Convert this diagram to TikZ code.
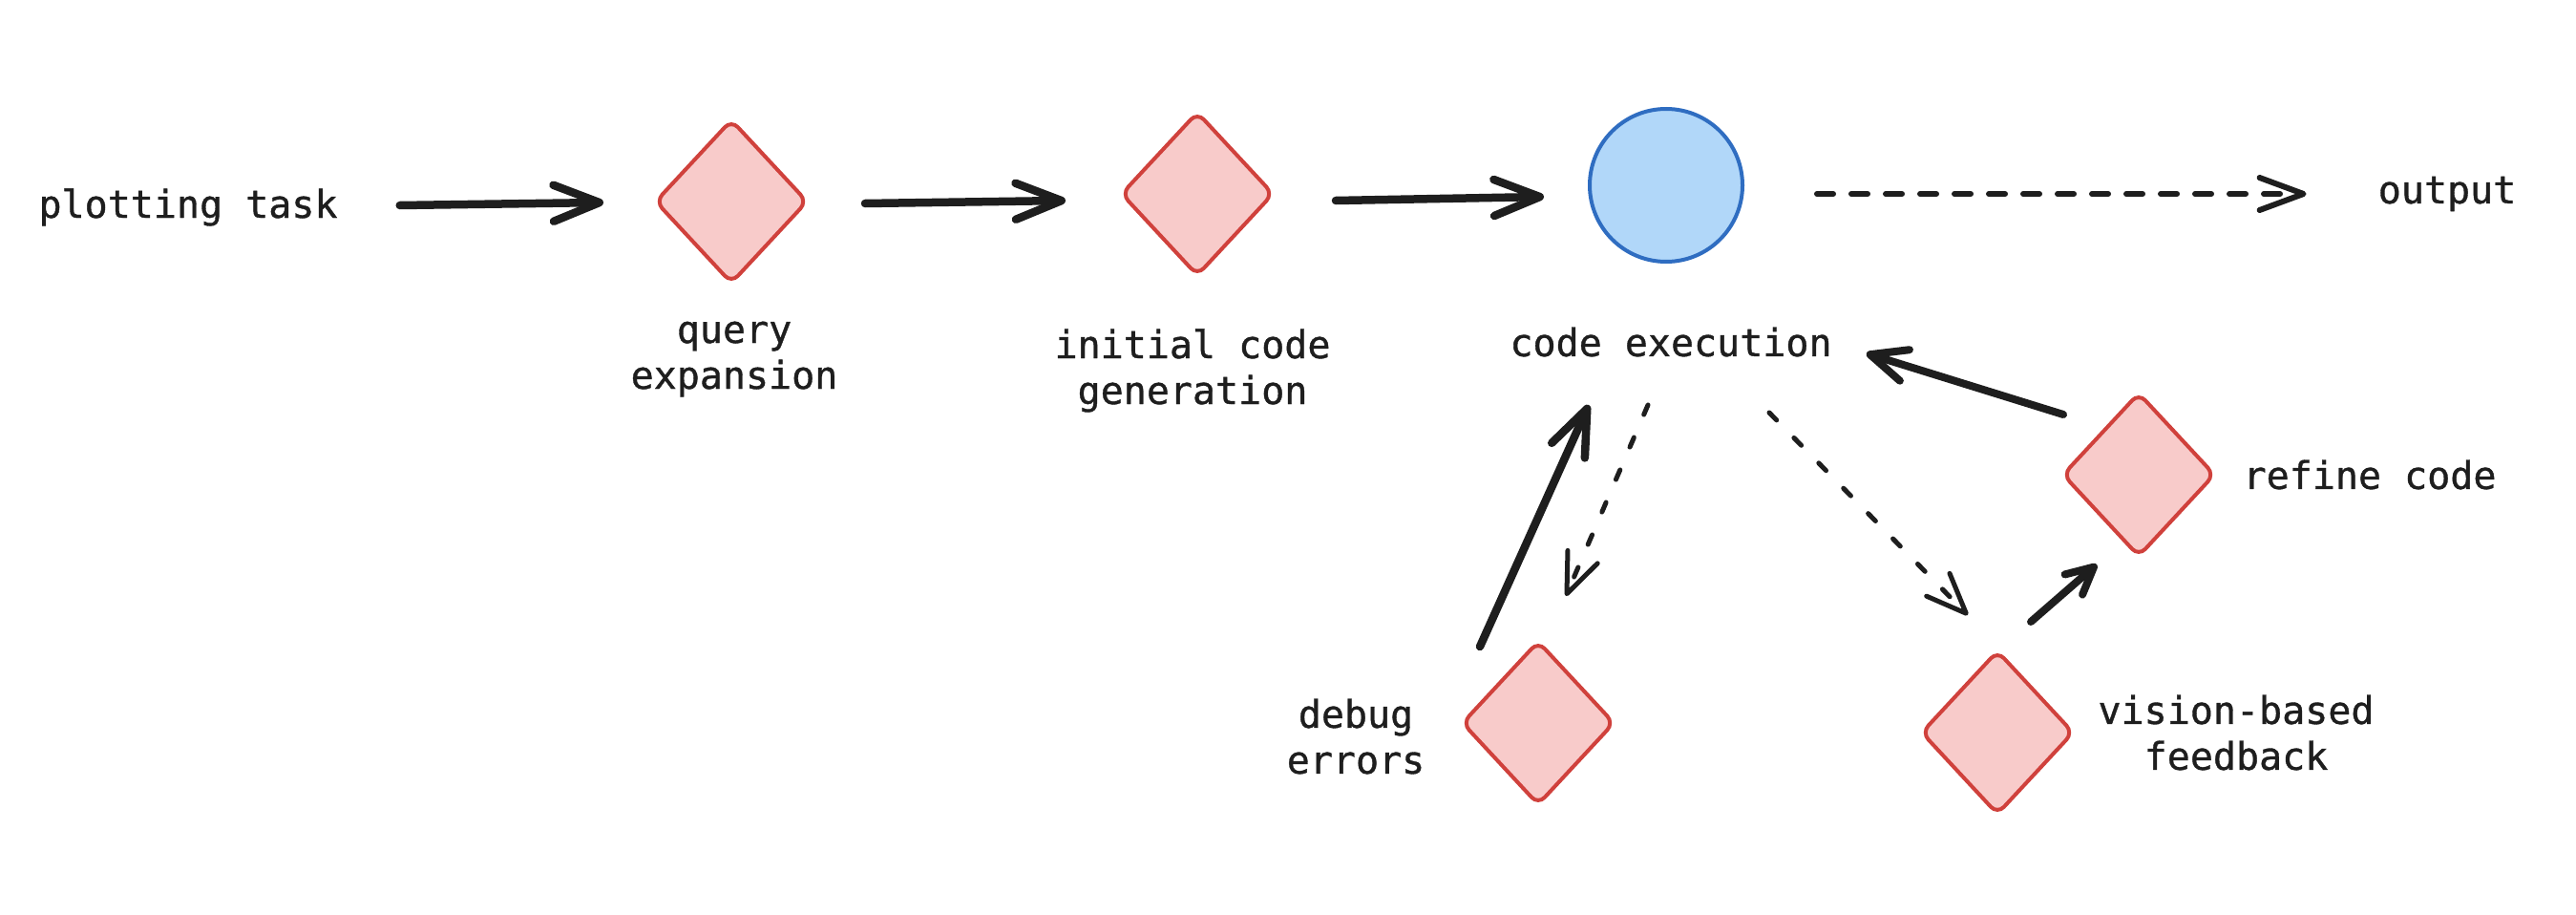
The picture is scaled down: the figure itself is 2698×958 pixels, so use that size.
\documentclass[tikz,border=0pt]{standalone}
\usepackage{fontspec}
\newfontfamily\lblfont[FakeBold=0.9]{DejaVu Sans Mono}
\usetikzlibrary{arrows.meta,shapes.geometric,calc}
\definecolor{inkc}{HTML}{1E1E1E}
\definecolor{redfill}{HTML}{F8CBCA}
\definecolor{redline}{HTML}{D0413C}
\definecolor{bluefill}{HTML}{B1D7F9}
\definecolor{blueline}{HTML}{2F6DC1}
\begin{document}
\begin{tikzpicture}[x=1pt,y=-1pt,
  lbl/.style={font=\fontsize{40}{48}\selectfont\lblfont, text=inkc, align=center, inner sep=0pt},
  dia/.style={diamond, draw=redline, fill=redfill, line width=4pt, minimum width=160pt, minimum height=172pt, inner sep=0pt, rounded corners=10pt},
  flow/.style={draw=inkc, line width=8.5pt, line cap=round, -{Straight Barb[length=48pt, width=38pt, line cap=round, line join=round]}},
  flowsmall/.style={draw=inkc, line width=8pt, line cap=round, -{Straight Barb[length=38pt, width=34pt, line cap=round, line join=round]}},
  flowtiny/.style={draw=inkc, line width=8pt, line cap=round, -{Straight Barb[length=28pt, width=28pt, line cap=round, line join=round]}},
  dflow/.style={draw=inkc, line width=5pt, line cap=round, dash pattern=on 11pt off 26pt, -{Straight Barb[length=42pt, width=34pt, line cap=round, line join=round]}},
  dflowtop/.style={draw=inkc, line width=6pt, line cap=round, dash pattern=on 17pt off 19pt, -{Straight Barb[length=46pt, width=34pt, line cap=round, line join=round]}},
]
\useasboundingbox (0,0) rectangle (2698,958);
\fill[white] (0,0) rectangle (2698,958);

% nodes
\node[lbl] (task) at (197,217) {plotting task};
\node[dia] (query) at (766,211) {};
\node[lbl] (querylbl) at (769,376) {query\\expansion};
\node[dia] (init) at (1254,203) {};
\node[lbl] (initlbl) at (1249,388) {initial code\\generation};
\node[circle, draw=blueline, fill=bluefill, line width=4pt, minimum size=160pt, inner sep=0pt] (exec) at (1745,194) {};
\node[lbl] (execlbl) at (1750,358) {code execution};
\node[lbl] (output) at (2563,203) {output};
\node[dia] (refine) at (2240,497) {};
\node[lbl] (refinelbl) at (2482,497) {refine code};
\node[dia] (vision) at (2092,767) {};
\node[lbl] (visionlbl) at (2342,767) {vision-based\\feedback};
\node[dia] (debug) at (1611,757) {};
\node[lbl] (debuglbl) at (1420,771) {debug\\errors};

% connectors
\draw[flow] ($(task.east)+(65,-2)$) -- ($(query.west)+(-52,1)$);
\draw[flow] ($(query.east)+(58,2)$) -- ($(init.west)+(-56,7)$);
\draw[flow] ($(init.east)+(63,7)$) -- ($(exec.west)+(-46,12)$);
\draw[dflowtop] ($(exec.east)+(76,9)$) -- ($(output.west)+(-75,0)$);
\draw[flowsmall] ($(refine.west)+(3,-63)$) -- ($(execlbl.east)+(36,12)$);
\draw[flowtiny] ($(vision.north)+(35,-28)$) -- ($(refine.south)+(-44,6)$);
\draw[dflow] ($(exec.south)+(108,156)$) -- ($(vision.north)+(-31,-35)$);
\draw[dflow] ($(exec.south)+(-19,148)$) -- ($(debug.north)+(29,-45)$);
\draw[flow] ($(debug.north)+(-61,8)$) -- ($(exec.south)+(-81,148)$);
\end{tikzpicture}
\end{document}
